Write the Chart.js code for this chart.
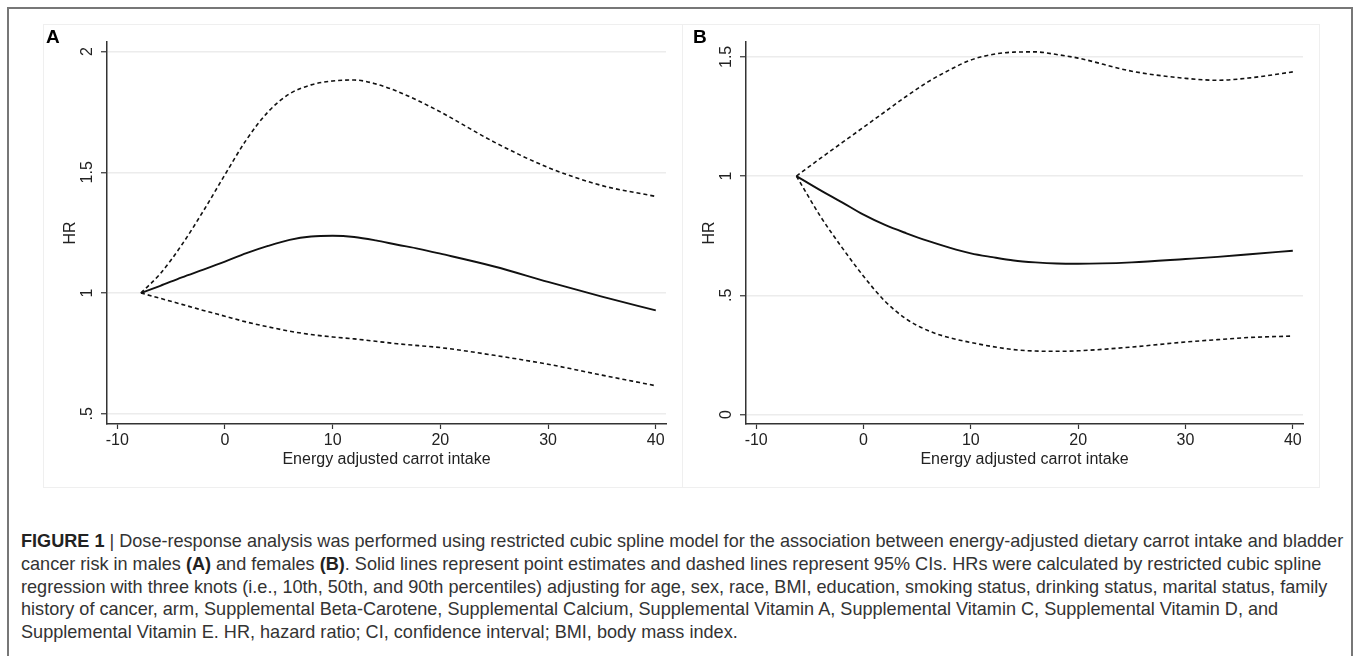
<!DOCTYPE html>
<html>
<head>
<meta charset="utf-8">
<script src="https://cdn.jsdelivr.net/npm/chart.js@4"></script>
<style>
  html, body { margin: 0; padding: 0; background: #fff; }
  body { width: 1357px; height: 656px; position: relative; overflow: hidden; font-family: "Liberation Sans", Arial, sans-serif; }
  #frame { position: absolute; left: 7px; top: 7px; width: 1346px; height: 700px; border: 2px solid #777; box-sizing: border-box; }
  .panel { position: absolute; top: 24px; height: 464px; border: 1px solid #efefef; box-sizing: border-box; }
  .panel canvas { position: absolute; left: 0; top: 0; }
  .tag { position: absolute; font-weight: bold; font-size: 19px; color: #000; }
  #caption { position: absolute; left: 21px; top: 530px; font-size: 18.1px; line-height: 22.8px; color: #333; white-space: nowrap; }
  #caption b { color: #222; }
</style>
</head>
<body>
<div id="frame"></div>
<div class="panel" id="pa" style="left:43px; width:640px;"><canvas id="chartA"></canvas></div>
<div class="panel" id="pb" style="left:682px; width:638px;"><canvas id="chartB"></canvas></div>
<div class="tag" style="left:46px; top:26px;">A</div>
<div class="tag" style="left:693px; top:26px;">B</div>
<div id="caption">
<b>FIGURE 1</b> | Dose-response analysis was performed using restricted cubic spline model for the association between energy-adjusted dietary carrot intake and bladder<br>
cancer risk in males <b>(A)</b> and females <b>(B)</b>. Solid lines represent point estimates and dashed lines represent 95% CIs. HRs were calculated by restricted cubic spline<br>
regression with three knots (i.e., 10th, 50th, and 90th percentiles) adjusting for age, sex, race, BMI, education, smoking status, drinking status, marital status, family<br>
history of cancer, arm, Supplemental Beta-Carotene, Supplemental Calcium, Supplemental Vitamin A, Supplemental Vitamin C, Supplemental Vitamin D, and<br>
Supplemental Vitamin E. HR, hazard ratio; CI, confidence interval; BMI, body mass index.
</div>
<script>
// axis ticks
var xTicks = [-10, 0, 10, 20, 30, 40];
var yTicksA = [0.5, 1, 1.5, 2];
var yLabelsA = ['.5', '1', '1.5', '2'];
var yTicksB = [0, 0.5, 1, 1.5];
var yLabelsB = ['0', '.5', '1', '1.5'];

// panel A (males)
var xA     = [-7.8, -6, -4, -2, 0, 2, 4, 6, 8, 10, 12, 14, 16, 18, 20, 25, 30, 35, 40];
var hrA    = [1.0, 1.03, 1.065, 1.097, 1.13, 1.165, 1.195, 1.22, 1.234, 1.237, 1.232, 1.218, 1.2, 1.183, 1.163, 1.11, 1.046, 0.985, 0.928];
var upperA = [1.0, 1.08, 1.2, 1.34, 1.49, 1.635, 1.75, 1.825, 1.862, 1.878, 1.882, 1.866, 1.835, 1.795, 1.75, 1.625, 1.52, 1.445, 1.40];
var lowerA = [1.0, 0.978, 0.953, 0.928, 0.904, 0.88, 0.86, 0.842, 0.828, 0.818, 0.81, 0.8, 0.79, 0.782, 0.774, 0.742, 0.705, 0.66, 0.616];

// panel B (females)
var xB     = [-6.25, -4, -2, 0, 2, 4, 6, 8, 10, 12, 14, 16, 18, 20, 25, 30, 33, 36, 40];
var hrB    = [1.0, 0.94, 0.89, 0.838, 0.795, 0.76, 0.728, 0.7, 0.676, 0.66, 0.646, 0.638, 0.633, 0.632, 0.638, 0.652, 0.661, 0.672, 0.687];
var upperB = [1.0, 1.075, 1.14, 1.205, 1.27, 1.335, 1.395, 1.445, 1.487, 1.51, 1.52, 1.521, 1.51, 1.495, 1.44, 1.41, 1.402, 1.412, 1.437];
var lowerB = [1.0, 0.83, 0.7, 0.58, 0.475, 0.4, 0.352, 0.322, 0.302, 0.285, 0.272, 0.266, 0.265, 0.267, 0.283, 0.304, 0.314, 0.323, 0.329];

var FONT = '"Liberation Sans", Arial, sans-serif';

// y tick labels are drawn turned, the way Stata does it
var rotatedYLabels = {
  id: 'rotatedYLabels',
  afterDraw: function(chart, args, opts) {
    var s = chart.scales.y, ctx = chart.ctx;
    ctx.save();
    ctx.font = '16px ' + FONT;
    ctx.fillStyle = '#222';
    ctx.textAlign = 'center';
    ctx.textBaseline = 'middle';
    s.ticks.forEach(function(t, i) {
      ctx.save();
      ctx.translate(s.right - 20, s.getPixelForValue(t.value));
      ctx.rotate(-Math.PI / 2);
      ctx.fillText(opts.labels[i], 0, 1);
      ctx.restore();
    });
    ctx.restore();
  }
};

function pts(xs, ys) {
  return xs.map(function(x, i) { return {x: x, y: ys[i]}; });
}

function line(data, dashed) {
  return {
    data: data,
    borderColor: '#111',
    borderWidth: dashed ? 1.6 : 1.9,
    borderDash: dashed ? [4, 3] : [],
    pointRadius: 0,
    cubicInterpolationMode: 'monotone',
    fill: false
  };
}

function makeChart(id, xs, hr, up, lo, yMin, yMax, yTicks, yLabels) {
  return new Chart(document.getElementById(id), {
    type: 'line',
    data: {
      datasets: [line(pts(xs, up), true), line(pts(xs, lo), true), line(pts(xs, hr), false)]
    },
    options: {
      responsive: true,
      maintainAspectRatio: false,
      animation: false,
      layout: { padding: { top: 17, right: 16, left: 0, bottom: 0 } },
      plugins: { legend: { display: false }, tooltip: { enabled: false }, rotatedYLabels: { labels: yLabels } },
      scales: {
        x: {
          type: 'linear',
          min: -10.95, max: 40.95,
          afterBuildTicks: function(a) { a.ticks = xTicks.map(function(v) { return {value: v}; }); },
          afterFit: function(a) { a.height = 63; },
          grid: { drawOnChartArea: false, drawTicks: true, tickLength: 5, tickColor: '#333', tickWidth: 1.2 },
          border: { color: '#333', width: 1.5 },
          ticks: { color: '#222', font: { family: FONT, size: 16 }, padding: 2, maxRotation: 0 },
          title: { display: true, text: 'Energy adjusted carrot intake', color: '#222', font: { family: FONT, size: 16 }, padding: { top: 0, bottom: 18 } }
        },
        y: {
          type: 'linear',
          min: yMin, max: yMax,
          afterBuildTicks: function(a) { a.ticks = yTicks.map(function(v) { return {value: v}; }); },
          afterFit: function(a) { a.width = 63; },
          grid: { color: '#ececec', lineWidth: 1.5, drawTicks: true, tickLength: 6, tickColor: '#333', tickWidth: 1.2 },
          border: { color: '#333', width: 1.5 },
          ticks: { display: false },
          title: { display: true, text: 'HR', color: '#222', font: { family: FONT, size: 16 }, padding: { top: 17, bottom: 0 } }
        }
      }
    },
    plugins: [rotatedYLabels]
  });
}

makeChart('chartA', xA, hrA, upperA, lowerA, 0.4576, 2.0395, yTicksA, yLabelsA);
makeChart('chartB', xB, hrB, upperB, lowerB, -0.04, 1.5625, yTicksB, yLabelsB);
</script>
</body>
</html>
